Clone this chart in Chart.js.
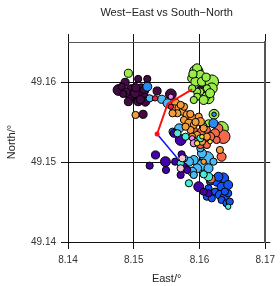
<!DOCTYPE html>
<html>
<head>
<meta charset="utf-8">
<script src="https://cdn.jsdelivr.net/npm/chart.js@4"></script>
<style>
html, body { margin: 0; padding: 0; background: #fff; }
</style>
</head>
<body>
<canvas id="myChartTrack" width="280" height="286"></canvas>
<script>
// tick labels
const eastTicks = [8.14, 8.15, 8.16, 8.17];
const northTicks = [49.14, 49.15, 49.16];

// track lines (east, north)
const redEast = [8.15888, 8.15515, 8.15355];
const redNorth = [49.15909, 49.15725, 49.15350];
const blueEast = [8.15355, 8.15664];
const blueNorth = [49.15350, 49.15046];

// point groups: [east, north, weight]
const darkPurple = [
  [8.14768, 49.15900, 4], [8.14869, 49.15996, 2.5], [8.14818, 49.15941, 2], [8.14967, 49.15900, 4],
  [8.15067, 49.16038, 2], [8.15206, 49.16038, 2], [8.15116, 49.15921, 3], [8.15157, 49.15888, 3],
  [8.14993, 49.15838, 3], [8.14943, 49.15804, 2.5], [8.15067, 49.15838, 3], [8.15167, 49.15804, 3],
  [8.15067, 49.15754, 2.5], [8.15176, 49.15754, 3], [8.14918, 49.15754, 2.5], [8.15355, 49.15888, 2.5],
  [8.15142, 49.15596, 2.5], [8.15564, 49.15846, 4], [8.15018, 49.15859, 3], [8.16037, 49.15900, 4],
  [8.14880, 49.15870, 3], [8.15030, 49.15930, 2.5], [8.15100, 49.15780, 2.5], [8.14840, 49.15850, 2]
];
const lightGreen = [
  [8.14918, 49.16109, 2.5], [8.15952, 49.16129, 5.5], [8.15963, 49.16171, 3], [8.15888, 49.16046, 3],
  [8.16012, 49.16088, 3], [8.15937, 49.16004, 3], [8.16037, 49.16004, 3], [8.16187, 49.16004, 5.5],
  [8.16187, 49.15921, 4], [8.16112, 49.15921, 2], [8.16137, 49.15796, 4], [8.16087, 49.15816, 3],
  [8.16012, 49.15879, 2], [8.15963, 49.15879, 2], [8.15888, 49.15921, 2], [8.15963, 49.15816, 2],
  [8.16063, 49.15775, 3], [8.15913, 49.15775, 2], [8.16221, 49.15596, 3.5], [8.16336, 49.15421, 5.5],
  [8.16137, 49.15484, 2], [8.16063, 49.15441, 2], [8.15900, 49.16100, 2.5], [8.16100, 49.16060, 2.5],
  [8.16160, 49.15860, 3]
];
const orange = [
  [8.15639, 49.15734, 2.5], [8.15615, 49.15671, 2], [8.15690, 49.15671, 2.5], [8.15739, 49.15629, 2],
  [8.15664, 49.15609, 2], [8.15590, 49.15609, 2], [8.15764, 49.15691, 2], [8.15713, 49.15713, 2],
  [8.15813, 49.15588, 2.5], [8.15888, 49.15546, 2.5], [8.15764, 49.15525, 2], [8.15839, 49.15484, 2.5],
  [8.15913, 49.15463, 2], [8.15988, 49.15566, 2], [8.16012, 49.15504, 2.5], [8.15863, 49.15400, 2],
  [8.15788, 49.15441, 2], [8.16063, 49.15421, 2], [8.15963, 49.15338, 2], [8.16037, 49.15254, 2],
  [8.16112, 49.15316, 2], [8.15888, 49.15316, 2], [8.15027, 49.15588, 2], [8.16310, 49.15150, 2],
  [8.16063, 49.15004, 1], [8.15860, 49.15600, 2], [8.15940, 49.15500, 2]
];
const tomato = [
  [8.16361, 49.15316, 5.5], [8.16287, 49.15421, 3], [8.16236, 49.15359, 3], [8.16261, 49.15275, 2],
  [8.16037, 49.15379, 3], [8.16112, 49.15400, 2], [8.16161, 49.15316, 3], [8.16087, 49.15275, 2],
  [8.15988, 49.15275, 2.5], [8.16012, 49.15213, 2], [8.16112, 49.15213, 2], [8.16336, 49.15066, 3],
  [8.16176, 49.14788, 2.5], [8.15913, 49.15400, 2]
];
const lightBlue = [
  [8.15242, 49.15796, 2], [8.15425, 49.15784, 2.5], [8.15515, 49.15734, 3], [8.15690, 49.15421, 3],
  [8.15590, 49.15379, 2], [8.16112, 49.15046, 5.5], [8.16037, 49.15109, 3], [8.16037, 49.14963, 4],
  [8.15963, 49.14921, 3], [8.15913, 49.15025, 3], [8.16137, 49.14921, 3], [8.16012, 49.15171, 2],
  [8.15888, 49.14879, 3], [8.15839, 49.15004, 3], [8.15913, 49.14838, 2], [8.15788, 49.14921, 2],
  [8.15764, 49.15046, 2], [8.16212, 49.15004, 2]
];
const dodgerBlue = [
  [8.15206, 49.15941, 3], [8.16212, 49.15484, 3], [8.16221, 49.15596, 0.5]
];
const aqua = [
  [8.15664, 49.15359, 2], [8.15788, 49.15316, 2], [8.16012, 49.15296, 2], [8.15713, 49.14984, 2],
  [8.15839, 49.14734, 2], [8.16137, 49.14816, 2.5], [8.16436, 49.14441, 1], [8.16063, 49.14846, 2],
  [8.15937, 49.15254, 1.5]
];
const violet = [
  [8.15564, 49.15816, 1], [8.15888, 49.15296, 1], [8.15913, 49.15234, 2]
];
const lightPink = [
  [8.15739, 49.15046, 2], [8.15713, 49.14921, 2]
];
const red = [
  [8.15325, 49.15796, 1], [8.15564, 49.15691, 1]
];
const yellow = [
  [8.15963, 49.15234, 1], [8.16161, 49.15254, 0.5], [8.16037, 49.15316, 0.5]
];
const indigo = [
  [8.15331, 49.15088, 2.5], [8.15242, 49.14954, 2], [8.15481, 49.15004, 3.5], [8.15490, 49.14900, 2],
  [8.15630, 49.15004, 2], [8.15728, 49.15096, 2], [8.15615, 49.15359, 2.5], [8.15713, 49.15275, 4],
  [8.15988, 49.14691, 3.5], [8.15764, 49.14941, 2], [8.15813, 49.14900, 2], [8.15713, 49.14838, 2],
  [8.16137, 49.14609, 2], [8.16063, 49.14629, 2]
];
const blue = [
  [8.16361, 49.14796, 4], [8.16261, 49.14754, 3], [8.16336, 49.14691, 3], [8.16436, 49.14713, 3],
  [8.16161, 49.14754, 2], [8.16137, 49.14671, 2], [8.16236, 49.14629, 2], [8.16310, 49.14588, 3],
  [8.16385, 49.14566, 3], [8.16436, 49.14609, 2], [8.16336, 49.14525, 2], [8.16410, 49.14484, 2],
  [8.16460, 49.14504, 2], [8.16112, 49.14566, 2], [8.16187, 49.14546, 2], [8.16385, 49.14629, 2],
  [8.16287, 49.14816, 3]
];

const fontFamily = "'Liberation Sans', Arial, sans-serif";

function toRadius(w) {
  return 1.8 + w * 0.9;
}

function bubbles(label, rows, color) {
  return {
    type: 'bubble',
    label: label,
    data: rows.map(p => ({ x: p[0], y: p[1], r: toRadius(p[2]) })),
    backgroundColor: color,
    borderColor: '#000',
    borderWidth: 1,
  };
}

function track(label, east, north, color, width, radius) {
  return {
    type: 'line',
    label: label,
    data: east.map((e, i) => ({ x: e, y: north[i] })),
    borderColor: color,
    backgroundColor: color,
    borderWidth: width,
    pointRadius: radius,
    pointBorderWidth: 0,
    fill: false,
    tension: 0,
  };
}

const setEastTicks = s => { s.ticks = eastTicks.map(v => ({ value: v })); };
const setNorthTicks = s => { s.ticks = northTicks.map(v => ({ value: v })); };

const ctx = document.getElementById('myChartTrack');

new Chart(ctx, {
  type: 'bubble',
  data: {
    datasets: [
      track('red track', redEast, redNorth, '#ff1010', 2, [0, 0, 2.5]),
      track('blue track', blueEast, blueNorth, '#1010ff', 1.5, 0),
      bubbles('dodgerblue', dodgerBlue, '#2a8cf2'),
      bubbles('red', red, '#ee1f3e'),
      bubbles('yellow', yellow, '#f2e23c'),
      bubbles('violet', violet, '#f08af0'),
      bubbles('lightpink', lightPink, '#f6c6d6'),
      bubbles('aqua', aqua, '#46eed6'),
      bubbles('orange', orange, '#f59d3c'),
      bubbles('tomato', tomato, '#f4694a'),
      bubbles('indigo', indigo, '#4500ae'),
      bubbles('lightblue', lightBlue, '#4cb9f2'),
      bubbles('blue', blue, '#1552f0'),
      bubbles('lightgreen', lightGreen, '#9aec48'),
      bubbles('darkpurple', darkPurple, '#430a43'),
    ]
  },
  options: {
    responsive: false,
    animation: false,
    layout: { padding: 0, autoPadding: false },
    plugins: {
      legend: { display: false },
      tooltip: { enabled: false },
      title: { display: false },
    },
    scales: {
      x: {
        type: 'linear',
        position: 'bottom',
        min: 8.14,
        max: 8.17,
        afterBuildTicks: setEastTicks,
        afterFit: s => { s.height = 44; },
        grid: { color: '#111', lineWidth: 1, tickLength: 7 },
        border: { color: '#111' },
        ticks: {
          color: '#333', padding: 5, maxRotation: 0,
          font: { size: 10, family: fontFamily },
          callback: v => v.toFixed(2)
        },
        title: {
          display: true, text: 'East/°', color: '#222',
          font: { size: 11, family: fontFamily },
          padding: { top: 0, bottom: 0 }
        }
      },
      y: {
        type: 'linear',
        position: 'left',
        min: 49.14,
        max: 49.165,
        afterBuildTicks: setNorthTicks,
        afterFit: s => { s.width = 68; },
        grid: { color: '#111', lineWidth: 1, tickLength: 7 },
        border: { color: '#111' },
        ticks: {
          color: '#333', padding: 5,
          font: { size: 10, family: fontFamily },
          callback: v => v.toFixed(2)
        },
        title: {
          display: true, text: 'North/°', color: '#222',
          font: { size: 11, family: fontFamily },
          padding: { top: 5, bottom: 0 }
        }
      },
      x2: {
        type: 'linear',
        position: 'top',
        min: 8.14,
        max: 8.17,
        afterBuildTicks: setEastTicks,
        afterFit: s => { s.height = 42; },
        grid: { drawOnChartArea: false, color: '#111', tickLength: 8 },
        border: { color: '#555' },
        ticks: { display: false },
        title: {
          display: true, text: 'West−East vs South−North', color: '#222',
          font: { size: 11, family: fontFamily },
          padding: { top: 6, bottom: 0 }
        }
      },
      y2: {
        type: 'linear',
        position: 'right',
        min: 49.14,
        max: 49.165,
        afterBuildTicks: setNorthTicks,
        afterFit: s => { s.width = 10; },
        grid: { drawOnChartArea: false, color: '#111', tickLength: 5 },
        border: { color: '#555', width: 2 },
        ticks: { display: false }
      }
    }
  }
});
</script>
</body>
</html>
